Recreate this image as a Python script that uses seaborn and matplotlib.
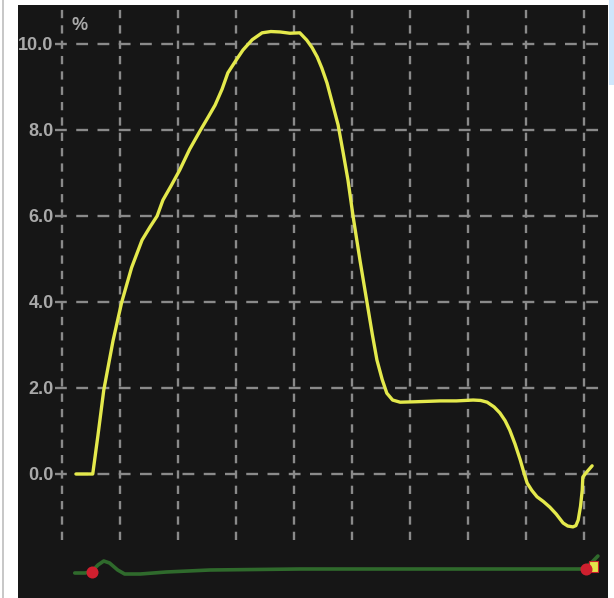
import matplotlib
matplotlib.use("Agg")
import matplotlib.pyplot as plt
import seaborn as sns
import pandas as pd
from matplotlib.patches import Rectangle

sns.set_theme(style="dark")
plt.rcParams['font.family'] = ['Liberation Sans', 'DejaVu Sans']

# Main series (x in grid units, value in %)
main_x = [0.24, 0.53, 0.62, 0.72, 0.88, 1.03, 1.20, 1.38, 1.52, 1.64, 1.74, 1.88, 2.03,
          2.20, 2.38, 2.52, 2.64, 2.76, 2.86, 3.00, 3.12, 3.28, 3.45, 3.60, 3.76, 3.93,
          4.10, 4.22, 4.31, 4.40, 4.48, 4.57, 4.67, 4.76, 4.84, 4.93, 5.02, 5.14, 5.26, 5.35,
          5.43, 5.52, 5.60, 5.70, 5.83, 6.10, 6.52, 6.80, 7.09, 7.22, 7.33, 7.45, 7.55,
          7.64, 7.72, 7.81, 7.90, 7.96, 8.02, 8.10, 8.19, 8.30, 8.41, 8.52, 8.64, 8.72,
          8.81, 8.86, 8.90, 8.94, 8.97, 8.98, 9.05, 9.14]
main_y = [0.0, 0.0, 0.90, 1.95, 3.10, 4.00, 4.80, 5.44, 5.75, 6.00, 6.37, 6.70, 7.07,
          7.55, 7.98, 8.30, 8.58, 8.95, 9.33, 9.62, 9.86, 10.10, 10.26, 10.29, 10.28, 10.25,
          10.26, 10.09, 9.92, 9.70, 9.44, 9.09, 8.58, 8.12, 7.53, 6.84, 5.98, 4.95, 3.98, 3.25,
          2.65, 2.20, 1.88, 1.72, 1.67, 1.68, 1.70, 1.70, 1.72, 1.71, 1.67, 1.56, 1.42,
          1.24, 1.02, 0.70, 0.33, 0.05, -0.21, -0.38, -0.53, -0.64, -0.77, -0.93, -1.14, -1.21,
          -1.23, -1.20, -1.07, -0.75, -0.37, -0.07, 0.05, 0.19]

# Navigator series (x in grid units, y in navigator units)
nav_x = [0.22, 0.40, 0.52, 0.62, 0.72, 0.82, 0.96, 1.08, 1.35, 1.80, 2.55, 4.10, 5.80,
         7.50, 8.50, 8.93, 9.02, 9.14, 9.24]
nav_y = [25, 25, 27, 33, 37, 35, 28, 24, 24, 26, 28, 29, 29, 29, 29, 29, 30, 36, 42]

y_ticks = [0, 2, 4, 6, 8, 10]
y_tick_labels = ["0.0", "2.0", "4.0", "6.0", "8.0", "10.0"]
x_grid = list(range(10))

W, H = 614, 598
fig = plt.figure(figsize=(W / 100, H / 100), dpi=100)
fig.patch.set_facecolor("white")

# background axes (dark panel, side strips)
bg = fig.add_axes([0, 0, 1, 1], zorder=0)
bg.set_xlim(0, W)
bg.set_ylim(H, 0)
bg.axis("off")
bg.add_patch(Rectangle((18, 5), 590, 593, facecolor="#161616", edgecolor="none"))
bg.add_patch(Rectangle((609, 0), 5, 85, facecolor="#cfe6fb", edgecolor="none"))
bg.plot([2.5, 2.5], [0, H], color="#bdbdbd", lw=1.2)

grid_col = "#8a8a8a"
ax = fig.add_axes([55 / W, (598 - 540) / H, 545 / W, 535 / H], zorder=2)
ax.set_facecolor("none")
xmin, xmax = -7 / 58, 538 / 58
ax.set_xlim(xmin, xmax)
ax.set_ylim(-66 / 43, 469 / 43)
for xv in x_grid:
    ax.axvline(xv, color=grid_col, lw=1.7, ls=(0, (3.5, 3)), zorder=1)
for yv in y_ticks:
    ax.axhline(yv, color=grid_col, lw=1.7, ls=(0, (5, 4)), zorder=1)

df = pd.DataFrame({"x": main_x, "y": main_y})
sns.lineplot(data=df, x="x", y="y", ax=ax, sort=False, estimator=None,
             color="#e4e94c", lw=2.4, zorder=3)
ax.set_xlabel("")
ax.set_ylabel("")
ax.set_xticks([])
ax.set_yticks(y_ticks)
ax.set_yticklabels(y_tick_labels, color="#a9a9a9", fontsize=13, fontweight="bold")
ax.tick_params(axis="y", length=0, pad=1)
ax.grid(False)
for s in ax.spines.values():
    s.set_visible(False)
ax.text(0.31, 10.44, "%", color="#a9a9a9", fontsize=13, fontweight="bold",
        ha="center", va="center")

nav = fig.add_axes([55 / W, 0, 545 / W, 53 / H], zorder=2)
nav.set_facecolor("none")
nav.set_xlim(xmin, xmax)
nav.set_ylim(0, 53)
ndf = pd.DataFrame({"x": nav_x, "y": nav_y})
sns.lineplot(data=ndf, x="x", y="y", ax=nav, sort=False, estimator=None,
             color="#2f6a2c", lw=2.6, zorder=2)
nav.add_patch(Rectangle((9.08, 26), 0.17, 11, facecolor="#e3e44a", edgecolor="#c9202c",
                        lw=0.8, zorder=3))
nav.scatter([0.52, 9.03], [26.5, 29.5], s=75, color="#cf1f2e", zorder=4, linewidths=0)
nav.set_xticks([])
nav.set_yticks([])
nav.set_xlabel("")
nav.set_ylabel("")
nav.grid(False)
for s in nav.spines.values():
    s.set_visible(False)

fig.savefig("out.png", dpi=100, facecolor=fig.get_facecolor())
